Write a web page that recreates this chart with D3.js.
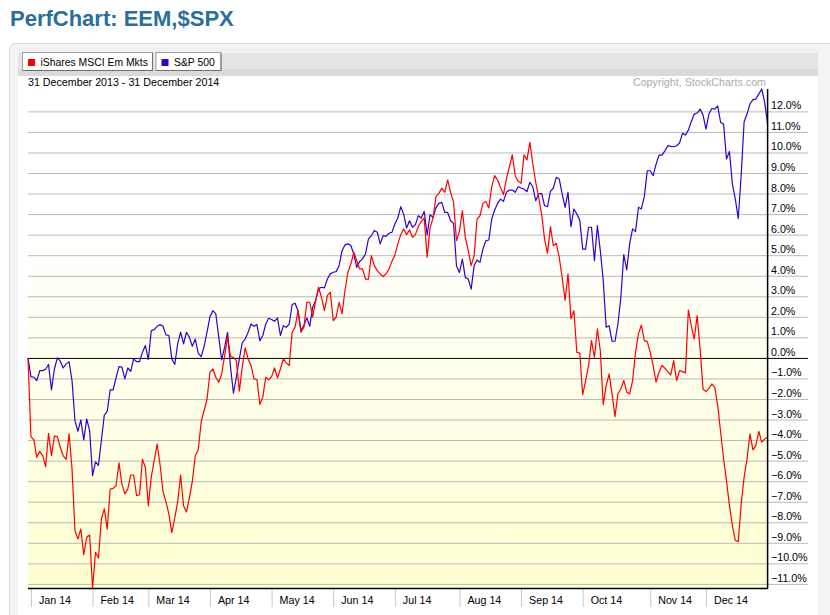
<!DOCTYPE html>
<html><head><meta charset="utf-8">
<script src="https://cdn.jsdelivr.net/npm/d3@7/dist/d3.min.js"></script>
<style>
body{margin:0;background:#fff;}
svg{display:block;font-family:"Liberation Sans",Arial,Helvetica,sans-serif;}
</style>
</head><body>
<svg id="chart" width="830" height="615"></svg>
<script>
// ---- data (percent change since 31 Dec 2013, one value per trading day) ----
const seriesNames = ["iShares MSCI Em Mkts", "S&P 500"];
const monthLabels = ["Jan 14","Feb 14","Mar 14","Apr 14","May 14","Jun 14","Jul 14","Aug 14","Sep 14","Oct 14","Nov 14","Dec 14"];
const monthStartDay = [1,22,41,62,83,104,125,147,168,189,212,231];
const yTickValues = [-11,-10,-9,-8,-7,-6,-5,-4,-3,-2,-1,0,1,2,3,4,5,6,7,8,9,10,11,12];

const eem = [
0,-3.83,-3.99,-4.84,-4.55,-4.76,-5.29,-3.67,-4.76,-3.81,
-3.83,-4.35,-4.77,-4.94,-3.70,-5.4,-8.41,-8.81,-8.33,-9.58,
-8.73,-8.62,-11.2,-9.46,-9.74,-7.84,-7.35,-8.33,-6.38,-6.35,
-6.22,-5.11,-6.14,-6.62,-6.38,-5.70,-5.70,-6.70,-6.66,-4.94,
-5.32,-7.19,-5.8,-5.0,-4.2,-5.2,-6.5,-7.0,-7.6,-8.5,
-7.8,-7.0,-5.7,-7.2,-7.5,-6.8,-6.0,-4.75,-4.48,-3.13,
-2.56,-2.0,-0.70,-0.54,-0.94,-1.18,-0.78,0.11,1.0,0.06,
0.03,-0.13,-1.62,-0.45,0.49,-0.05,-0.37,-1.02,-1.05,-2.27,
-1.91,-0.94,-1.07,-0.91,-0.49,-0.97,-0.54,-0.05,-0.24,-0.37,
1.25,1.49,2.30,1.25,1.49,2.71,2.71,1.98,2.79,3.44,
2.95,2.30,3.03,3.20,1.82,1.98,2.71,2.14,3.28,4.17,
4.57,5.14,4.74,4.33,4.33,3.84,3.84,4.98,4.49,4.25,
4.09,3.96,4.09,4.33,4.70,5.0,5.55,6.0,6.28,6.0,
6.23,5.87,6.0,6.4,6.65,6.81,4.9,6.33,6.81,7.85,
8.01,8.27,8.06,8.66,8.06,7.57,5.71,6.16,7.17,5.87,
5.22,4.49,4.98,6.76,6.92,7.52,7.62,7.30,8.33,8.87,
8.66,8.30,7.95,8.71,9.28,9.89,8.87,8.60,8.50,9.89,
9.63,10.49,9.44,8.55,7.82,7.0,5.79,5.09,6.39,5.46,
5.58,4.90,3.92,2.8,4.09,1.90,2.30,0.27,0.23,-1.79,
-1.10,-0.38,0.84,0.03,1.41,0.35,-2.27,-1.35,-0.78,-1.75,
-2.86,-1.75,-1.51,-1.10,-1.67,-1.75,-1.10,0.27,1.17,1.60,
0.84,0.79,0.27,-0.37,-1.18,-0.70,-0.37,-0.50,-0.67,-0.83,
-0.13,-1.10,-0.62,-0.67,-0.73,2.33,1.57,0.92,2.06,0.44,
-1.51,-1.64,-1.48,-1.27,-1.43,-2.32,-3.62,-4.92,-5.97,-7.19,
-8.16,-8.89,-8.94,-7.11,-5.81,-4.9,-3.70,-4.48,-4.27,-3.57,
-4.1,-3.95,-3.87
];

const spx = [
0,-0.91,-0.94,-1.10,-0.62,-0.62,-0.55,-0.32,-1.56,-0.54,
0.0,-0.16,-0.49,-0.29,-0.19,-1.10,-3.05,-3.57,-3.02,-3.99,
-2.97,-3.54,-5.73,-5.06,-5.23,-4.02,-2.78,-2.60,-1.56,-1.56,
-0.97,-0.42,-0.45,-1.02,-0.49,-0.65,-0.05,-0.18,-0.18,0.28,
0.60,-0.08,1.33,1.38,1.54,1.62,1.54,1.12,1.09,-0.05,
-0.32,0.68,1.25,0.68,1.25,1.0,0.57,0.92,0.23,0.06,
0.55,1.25,2.01,2.30,2.14,1.0,-0.1,0.52,1.25,-0.45,
-1.72,-0.94,-0.05,0.73,0.92,1.25,1.65,1.54,1.62,0.84,
1.09,1.65,1.93,1.87,1.78,1.95,1.09,1.57,1.49,1.65,
2.60,2.66,2.30,1.33,1.57,1.95,1.54,2.47,2.79,3.36,
3.44,3.41,3.84,4.09,4.17,4.20,4.49,5.22,5.50,5.55,
5.47,5.06,4.41,4.69,4.82,5.06,5.79,5.95,6.20,6.12,
5.55,5.95,5.92,6.07,6.11,6.52,6.81,7.36,7.0,6.32,
6.68,6.36,6.49,6.92,6.81,7.13,5.99,6.97,6.84,7.30,
7.52,7.57,7.08,7.08,6.68,6.55,4.49,4.16,4.81,3.92,
3.84,3.35,4.49,4.77,4.65,5.30,5.70,5.74,6.76,7.20,
7.52,7.73,7.62,8.06,8.17,8.17,8.06,8.33,8.27,8.22,
8.09,8.55,8.33,7.65,7.98,8.01,7.41,7.36,8.11,8.27,
8.79,8.71,7.98,7.33,8.06,6.39,7.25,7.0,6.71,5.30,
5.30,6.36,6.36,4.73,6.44,5.22,3.76,1.49,1.57,0.81,
0.81,1.65,2.95,5.03,4.28,5.55,6.28,6.15,7.33,7.25,
7.86,9.11,9.11,8.87,9.43,9.87,9.87,10.08,10.33,10.30,
10.28,10.33,10.46,10.93,10.85,11.09,11.50,11.87,11.92,12.11,
11.82,11.14,11.87,12.14,12.11,12.27,11.46,11.38,9.68,10.05,
8.47,7.73,6.79,8.9,11.50,11.87,12.36,12.57,12.60,12.84,
13.09,12.44,11.38
];

const seriesColors = ["#ff0000", "#3300cc"];

// ---- layout ----
const svg = d3.select("#chart");
const W = 830, H = 615;
const plot = {left: 28, right: 767.6, top: 89, bottom: 588};

// page title
svg.append("text").attr("x", 10).attr("y", 26)
  .attr("font-size", 22).attr("font-weight", "bold").attr("fill", "#2b6e9b")
  .text("PerfChart: EEM,$SPX");

// outer panel
const defs = svg.append("defs");
const lg = defs.append("linearGradient").attr("id","legBand").attr("x1",0).attr("y1",0).attr("x2",0).attr("y2",1);
lg.append("stop").attr("offset","0%").attr("stop-color","#f0f0f0");
lg.append("stop").attr("offset","18%").attr("stop-color","#f0f0f0");
lg.append("stop").attr("offset","19%").attr("stop-color","#e4e4e4");
lg.append("stop").attr("offset","74%").attr("stop-color","#e4e4e4");
lg.append("stop").attr("offset","75%").attr("stop-color","#dadada");
lg.append("stop").attr("offset","100%").attr("stop-color","#dadada");

const bg = defs.append("linearGradient").attr("id","plotBg").attr("x1",0).attr("y1",0).attr("x2",0).attr("y2",1);
bg.append("stop").attr("offset","0%").attr("stop-color","#ffffff");
bg.append("stop").attr("offset","28%").attr("stop-color","#ffffff");
bg.append("stop").attr("offset","100%").attr("stop-color","#ffffd0");

svg.append("rect").attr("x", 9.5).attr("y", 43.5).attr("width", 840).attr("height", 600)
  .attr("rx", 6).attr("fill", "#f4f4f4").attr("stroke", "#d8d8d8");
svg.append("rect").attr("x", 18).attr("y", 48).attr("width", 800).attr("height", 570).attr("fill", "#ffffff");
svg.append("rect").attr("x", 18).attr("y", 48).attr("width", 800).attr("height", 28).attr("fill", "url(#legBand)");

// legend buttons
const legendX = [22.5, 156];
const legendW = [130, 65];
seriesNames.forEach((name, i) => {
  const g = svg.append("g").attr("transform", `translate(${legendX[i]},52.5)`);
  g.append("rect").attr("width", legendW[i]).attr("height", 18).attr("fill", "#fff")
    .attr("stroke", "#a0a0a0");
  g.append("line").attr("x1", 0.5).attr("x2", legendW[i]).attr("y1", 18).attr("y2", 18).attr("stroke", "#707070");
  g.append("line").attr("x1", legendW[i]).attr("x2", legendW[i]).attr("y1", 0.5).attr("y2", 18).attr("stroke", "#707070");
  g.append("rect").attr("x", 5.5).attr("y", 6.5).attr("width", 7).attr("height", 7).attr("fill", seriesColors[i]);
  g.append("text").attr("x", 18).attr("y", 13.5).attr("font-size", 10.4).attr("fill", "#000").text(name);
});

// date range + copyright
svg.append("text").attr("x", 28).attr("y", 86).attr("font-size", 10.7).attr("fill", "#000")
  .text("31 December 2013 - 31 December 2014");
svg.append("text").attr("x", 766).attr("y", 86).attr("font-size", 10.7).attr("fill", "#ababab")
  .attr("text-anchor", "end").text("Copyright, StockCharts.com");

// scales
const nDays = eem.length - 1;
const x = d3.scaleLinear().domain([0, nDays]).range([plot.left, plot.right]);
const allVals = eem.concat(spx);
const y = d3.scaleLinear().domain([d3.min(allVals), d3.max(allVals)]).range([plot.bottom, plot.top]);

// plot background
svg.append("rect").attr("x", plot.left).attr("y", plot.top)
  .attr("width", plot.right - plot.left).attr("height", plot.bottom - plot.top)
  .attr("fill", "url(#plotBg)");

// horizontal grid lines + right axis labels
const yAxis = d3.axisRight(y).tickValues(yTickValues).tickSize(0)
  .tickFormat(d => d3.format(".1f")(d) + "%");
const yg = svg.append("g").attr("transform", `translate(${plot.left},0)`).call(yAxis);
yg.select(".domain").remove();
yg.selectAll(".tick line").attr("x2", 808 - plot.left)
  .attr("stroke", d => d === 0 ? "#000" : "#b9b9b9").attr("stroke-width", 1);
yg.selectAll(".tick text").attr("x", 771 - plot.left).attr("dy", null).attr("y", -2.5)
  .attr("text-anchor", "start").attr("font-size", 10.7).attr("fill", "#000")
  .attr("font-family", "'Liberation Sans',Arial,sans-serif");
yg.selectAll(".tick line").filter(d => d === 0).raise();

// bottom axis with month ticks
const xAxis = d3.axisBottom(x).tickValues(monthStartDay).tickSize(19)
  .tickFormat((d, i) => monthLabels[i]);
const xg = svg.append("g").attr("transform", `translate(0,${plot.bottom})`).call(xAxis);
xg.select(".domain").remove();
xg.selectAll(".tick line").attr("stroke", "#c8c8c8");
xg.selectAll(".tick text").attr("x", 7.5).attr("y", 16).attr("dy", null)
  .attr("text-anchor", "start").attr("font-size", 10.7).attr("fill", "#000")
  .attr("font-family", "'Liberation Sans',Arial,sans-serif");

// series lines
const line = d3.line().x((d, i) => x(i)).y(d => y(d));
[spx, eem].forEach((s, k) => {
  svg.append("path").datum(s).attr("d", line).attr("fill", "none")
    .attr("stroke", k === 0 ? seriesColors[1] : seriesColors[0]).attr("stroke-width", 1.2)
    .attr("stroke-linejoin", "round");
});

// frame: bottom and right axis lines
svg.append("line").attr("x1", plot.left).attr("x2", plot.right + 0.5)
  .attr("y1", plot.bottom + 0.5).attr("y2", plot.bottom + 0.5).attr("stroke", "#000").attr("stroke-width", 1.5);
svg.append("line").attr("x1", plot.right).attr("x2", plot.right)
  .attr("y1", plot.top).attr("y2", plot.bottom + 0.5).attr("stroke", "#000").attr("stroke-width", 1.5);
</script>
</body></html>
